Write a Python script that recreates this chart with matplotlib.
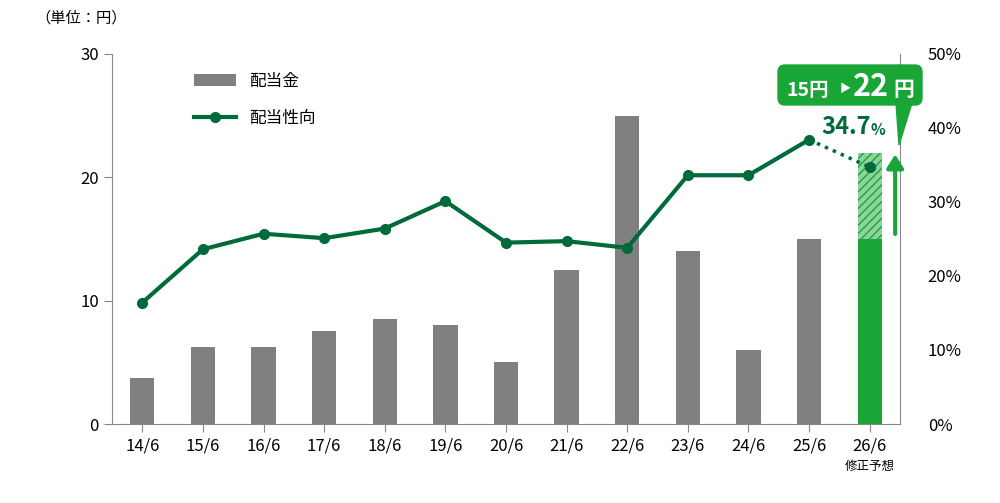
import matplotlib.pyplot as plt
from matplotlib.patches import FancyBboxPatch, Polygon

plt.rcParams['font.family'] = ['Noto Sans CJK JP', 'DejaVu Sans']

labels = ['14/6', '15/6', '16/6', '17/6', '18/6', '19/6', '20/6', '21/6', '22/6', '23/6', '24/6', '25/6', '26/6']
dividend = [3.75, 6.25, 6.25, 7.5, 8.5, 8.0, 5.0, 12.5, 25.0, 14.0, 6.0, 15.0]
forecast_old, forecast_new = 15.0, 22.0
payout = [16.4, 23.6, 25.7, 25.1, 26.4, 30.1, 24.5, 24.7, 23.8, 33.6, 33.6, 38.4]
payout_fc = 34.7

GRAY = '#808080'
DARK = '#006b3a'
GREEN = '#1aa637'

fig = plt.figure(figsize=(10, 5.03), dpi=100)
ax = fig.add_axes([0.112, 0.157, 0.788, 0.736])
ax2 = ax.twinx()

x = list(range(len(dividend)))
ax.bar(x, dividend, width=0.4, color=GRAY, label='配当金')
n = len(dividend)
ax.bar(n, forecast_old, width=0.4, color=GREEN)
ax.bar(n, forecast_new - forecast_old, bottom=forecast_old, width=0.4,
       color='#8fd39c', hatch='////', edgecolor=GREEN, linewidth=0)
ax.set_ylim(0, 30)
ax.set_xlim(-0.5, n + 0.5)
ax.set_yticks([0, 10, 20, 30])
ax.set_xticks(range(n + 1))
ax.set_xticklabels(labels)

ax2.plot(x, payout, color=DARK, lw=3, marker='o', ms=7, label='配当性向')
ax2.plot([n - 1, n], [payout[-1], payout_fc], color=DARK, lw=2.5, ls=(0, (1, 1.5)))
ax2.plot(n, payout_fc, 'o', color=DARK, ms=7)
ax2.set_ylim(0, 50)
ax2.set_yticks(range(0, 51, 10))
ax2.set_yticklabels([f'{v}%' for v in range(0, 51, 10)])

for a in (ax, ax2):
    a.spines['top'].set_visible(False)
    a.tick_params(labelsize=12, length=6, color='#888888')
ax.spines['right'].set_visible(False)
ax2.spines['left'].set_visible(False)
ax2.spines['bottom'].set_visible(False)
ax.spines['left'].set_color('#888888')
ax2.spines['right'].set_color('#888888')
ax.spines['bottom'].set_color('#888888')
ax2.tick_params(length=0, pad=20)

fig.text(0.035, 0.955, '（単位：円）', fontsize=11)
fig.text(0.87, 0.065, '修正予想', fontsize=9, ha='center')

h1, l1 = ax.get_legend_handles_labels()
h2, l2 = ax2.get_legend_handles_labels()
ax.legend(h1 + h2, l1 + l2, loc='upper left', bbox_to_anchor=(0.085, 0.99), frameon=False,
          fontsize=12, handlelength=2.5, labelspacing=1.2)

# forecast annotations
ax2.text(n - 0.8, 38.5, '34.7', color=DARK, fontsize=17, fontweight='bold', va='bottom')
ax2.text(n + 0.02, 38.6, '%', color=DARK, fontsize=11, fontweight='bold', va='bottom')
ax2.annotate('', xy=(n + 0.42, 36.8), xytext=(n + 0.42, 25.3),
             arrowprops=dict(arrowstyle='-|>,head_width=0.5,head_length=0.8', color=GREEN, lw=3))
box = FancyBboxPatch((778, 398), 144, 40, boxstyle='round,pad=0,rounding_size=7',
                     transform=None, color=GREEN, zorder=5)
fig.patches.append(box)
fig.patches.append(Polygon([[896, 400], [912, 400], [899, 358]], closed=True,
                           transform=None, color=GREEN, zorder=5))
fig.text(0.786, 0.81, '15円', color='white', fontsize=14, fontweight='bold', va='baseline', zorder=6)
fig.text(0.840, 0.818, '▶', color='white', fontsize=8, va='baseline', zorder=6)
fig.text(0.853, 0.81, '22', color='white', fontsize=22, fontweight='bold', va='baseline', zorder=6)
fig.text(0.893, 0.81, '円', color='white', fontsize=15, fontweight='bold', va='baseline', zorder=6)

fig.savefig('out.png')
